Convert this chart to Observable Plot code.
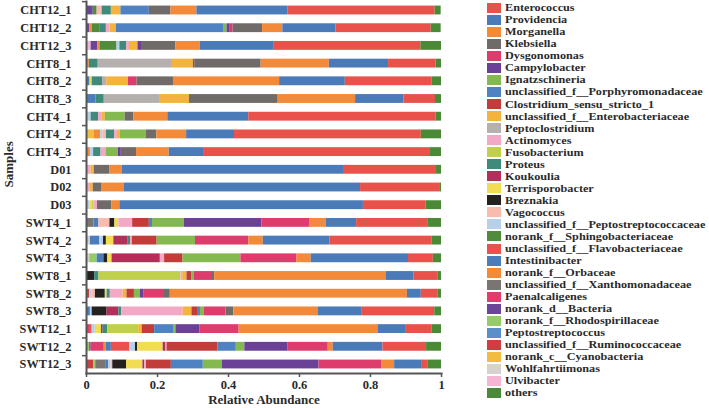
<!DOCTYPE html>
<html><head><meta charset="utf-8">
<script src="https://cdn.jsdelivr.net/npm/d3@7"></script>
<script src="https://cdn.jsdelivr.net/npm/@observablehq/plot@0.6"></script>
<style>
body{margin:0;background:#fff;}
#wrap{position:relative;width:709px;height:410px;overflow:hidden;font-family:"Liberation Serif","Times New Roman",serif;font-weight:bold;}
#wrap svg{position:absolute;left:0;top:0;}
#legend{position:absolute;left:487px;top:0;width:222px;height:410px;}
.item{position:absolute;left:0;height:10px;white-space:nowrap;}
.sw{position:absolute;left:0;top:0;width:14px;height:10px;}
.lab{position:absolute;left:18px;top:-0.5px;height:11px;font-size:10.8px;line-height:11px;color:#2a2a2a;transform:scaleX(1.13);transform-origin:0 50%;}
</style></head><body><div id="wrap"><div id="legend"></div></div>
<script>
const samples = ["CHT12_1","CHT12_2","CHT12_3","CHT8_1","CHT8_2","CHT8_3","CHT4_1","CHT4_2","CHT4_3","D01","D02","D03","SWT4_1","SWT4_2","SWT4_3","SWT8_1","SWT8_2","SWT8_3","SWT12_1","SWT12_2","SWT12_3"];

const taxa = ["Enterococcus","Providencia","Morganella","Klebsiella","Dysgonomonas","Campylobacter","Ignatzschineria","unclassified_f__Porphyromonadaceae","Clostridium_sensu_stricto_1","unclassified_f__Enterobacteriaceae","Peptoclostridium","Actinomyces","Fusobacterium","Proteus","Koukoulia","Terrisporobacter","Breznakia","Vagococcus","unclassified_f__Peptostreptococcaceae","norank_f__Sphingobacteriaceae","unclassified_f__Flavobacteriaceae","Intestinibacter","norank_f__Orbaceae","unclassified_f__Xanthomonadaceae","Paenalcaligenes","norank_d__Bacteria","norank_f__Rhodospirillaceae","Peptostreptococcus","unclassified_f__Ruminococcaceae","norank_c__Cyanobacteria","Wohlfahrtiimonas","Ulvibacter","others"];

const colors = ["#E8524A","#4A7AB8","#F28A3A","#706B69","#DC3D6C","#6A4197","#84B950","#4F82C2","#C23D3A","#F3B33D","#B5B0AE","#F2A9C6","#C1D04C","#3F8A7A","#B0305A","#F1DC52","#252120","#F8BBAE","#B6D0EA","#508C3C","#EA524D","#4B7DBA","#F28B39","#7A7573","#E03D6D","#6B4598","#96CB6A","#5B8FCA","#C8403F","#F2BB42","#D6D2D0","#F5B6D4","#4A8A36"];

// per sample: [legend number (1-based), relative abundance]
const abundance = [
  [[26,.019],[20,.011],[18,.014],[14,.026],[10,.027],[8,.080],[4,.061],[3,.073],[2,.256],[1,.415],[33,.017]],
  [[26,.009],[23,.007],[20,.023],[14,.017],[12,.011],[10,.017],[8,.302],[7,.010],[6,.009],[5,.008],[4,.083],[3,.057],[2,.150],[1,.268],[33,.028]],
  [[32,.013],[26,.019],[23,.006],[20,.048],[19,.008],[14,.019],[12,.008],[10,.024],[6,.010],[4,.097],[3,.068],[2,.209],[1,.413],[33,.058]],
  [[23,.008],[14,.025],[11,.209],[10,.059],[9,.004],[4,.187],[3,.192],[2,.167],[1,.134],[33,.015]],
  [[22,.010],[16,.006],[14,.029],[11,.012],[10,.061],[5,.024],[4,.103],[3,.299],[2,.185],[1,.245],[33,.026]],
  [[22,.027],[14,.023],[11,.158],[10,.082],[4,.250],[3,.218],[2,.136],[1,.089],[33,.017]],
  [[19,.013],[14,.021],[12,.009],[10,.010],[7,.056],[4,.024],[3,.096],[2,.228],[1,.528],[33,.015]],
  [[30,.021],[23,.019],[19,.006],[18,.010],[14,.023],[12,.008],[10,.008],[7,.073],[4,.030],[3,.084],[2,.135],[1,.526],[33,.057]],
  [[23,.011],[19,.009],[14,.021],[12,.014],[7,.035],[6,.008],[4,.043],[3,.092],[2,.099],[1,.637],[33,.031]],
  [[12,.013],[10,.009],[4,.043],[3,.035],[2,.624],[1,.262],[33,.014]],
  [[12,.011],[10,.008],[4,.025],[3,.063],[2,.665],[1,.225],[33,.003]],
  [[19,.009],[16,.008],[13,.004],[12,.010],[4,.040],[3,.023],[2,.686],[1,.177],[33,.043]],
  [[24,.021],[22,.014],[18,.031],[17,.014],[16,.011],[12,.039],[9,.047],[8,.009],[7,.090],[6,.218],[5,.136],[3,.045],[2,.086],[1,.202],[33,.037]],
  [[31,.011],[22,.026],[19,.011],[17,.008],[16,.021],[15,.039],[14,.008],[12,.005],[9,.070],[7,.108],[5,.150],[3,.041],[2,.188],[1,.288],[33,.026]],
  [[31,.009],[27,.021],[22,.019],[17,.011],[16,.012],[15,.136],[12,.012],[9,.052],[7,.163],[5,.158],[3,.040],[2,.274],[1,.070],[33,.023]],
  [[17,.023],[14,.012],[13,.231],[12,.005],[10,.012],[9,.013],[7,.007],[5,.052],[4,.006],[3,.484],[2,.077],[1,.069],[33,.009]],
  [[29,.009],[19,.007],[18,.009],[17,.028],[16,.005],[14,.009],[12,.036],[10,.011],[9,.021],[7,.017],[6,.009],[5,.056],[4,.019],[3,.668],[2,.039],[1,.048],[33,.009]],
  [[22,.011],[19,.005],[17,.042],[15,.033],[14,.008],[12,.173],[10,.025],[9,.018],[8,.006],[7,.011],[5,.061],[4,.022],[3,.237],[2,.123],[1,.206],[33,.019]],
  [[25,.011],[21,.005],[19,.009],[14,.014],[16,.017],[15,.004],[13,.087],[10,.010],[9,.035],[8,.055],[7,.005],[6,.068],[5,.110],[3,.391],[2,.080],[1,.073],[33,.026]],
  [[27,.009],[26,.004],[25,.037],[23,.006],[22,.014],[21,.052],[19,.016],[17,.006],[16,.072],[15,.008],[12,.003],[9,.143],[8,.052],[7,.024],[6,.122],[5,.113],[3,.014],[2,.140],[1,.123],[33,.042]],
  [[29,.021],[27,.005],[24,.028],[22,.009],[19,.006],[18,.005],[17,.039],[16,.046],[15,.005],[12,.005],[9,.070],[8,.090],[7,.054],[6,.272],[5,.176],[3,.037],[2,.078],[1,.017],[33,.037]]
];

const xTicks = [0, 0.2, 0.4, 0.6, 0.8, 1];

// stacking order left to right: reversed legend, "others" at the far right
const stackOrder = taxa.slice(0, 32).reverse().concat(["others"]);

const table = [];
abundance.forEach((row, i) => {
  row.forEach(([t, v]) => table.push({sample: samples[i], taxon: taxa[t - 1], value: v}));
});

const marginTop = 1, marginBottom = 37, H = 410;
const step = 17.7;                       // band step in px
const firstCenter = 10;                  // center of first band
const r0 = firstCenter - 0.75 * step;    // padding 0.5 inner & outer
const r1 = r0 + 21.5 * step;
const font = "Liberation Serif, Times New Roman, serif";

const chart = Plot.plot({
  width: 709, height: H,
  marginLeft: 86, marginRight: 268, marginTop, marginBottom,
  style: {fontFamily: font, fontWeight: "bold", color: "#2a2a2a", background: "transparent"},
  x: {domain: [0, 1], ticks: xTicks, tickFormat: d => String(d), label: null},
  y: {domain: samples, padding: 0.5, align: 0.5, range: [r0, r1], round: false, label: null},
  color: {domain: taxa, range: colors},
  marks: [
    Plot.barX(table, Plot.stackX({x: "value", y: "sample", fill: "taxon", z: "taxon", order: stackOrder})),
    Plot.frame({anchor: "left", stroke: "#555", strokeWidth: 2}),
    Plot.frame({anchor: "bottom", stroke: "#555", strokeWidth: 2}),
    Plot.axisX({ticks: xTicks, tickSize: 4, tickPadding: 3, stroke: "#555", strokeWidth: 1.5, fontSize: 12.5, label: null, tickFormat: d => String(d)}),
    Plot.axisY({tickSize: 4, text: null, dy: -step / 2, stroke: "#555", strokeWidth: 1.5}),
    Plot.axisY({tickSize: 0, tickPadding: 15, fontSize: 12.3, label: null}),
    Plot.text(["Relative Abundance"], {frameAnchor: "bottom", dy: 30.5, fontSize: 13, fontWeight: "bold", fill: "#2a2a2a"}),
    Plot.text(["Samples"], {frameAnchor: "left", dx: -78, rotate: -90, fontSize: 13, fontWeight: "bold", fill: "#2a2a2a"})
  ]
});
const wrap = document.getElementById("wrap");
wrap.insertBefore(chart, wrap.firstChild);

const legend = document.getElementById("legend");
taxa.forEach((t, i) => {
  const it = document.createElement("div");
  it.className = "item";
  it.style.top = (2.7 + i * 12.04) + "px";
  const sw = document.createElement("div");
  sw.className = "sw";
  sw.style.background = colors[i];
  const lab = document.createElement("div");
  lab.className = "lab";
  lab.textContent = t;
  it.appendChild(sw); it.appendChild(lab);
  legend.appendChild(it);
});
</script></body></html>
